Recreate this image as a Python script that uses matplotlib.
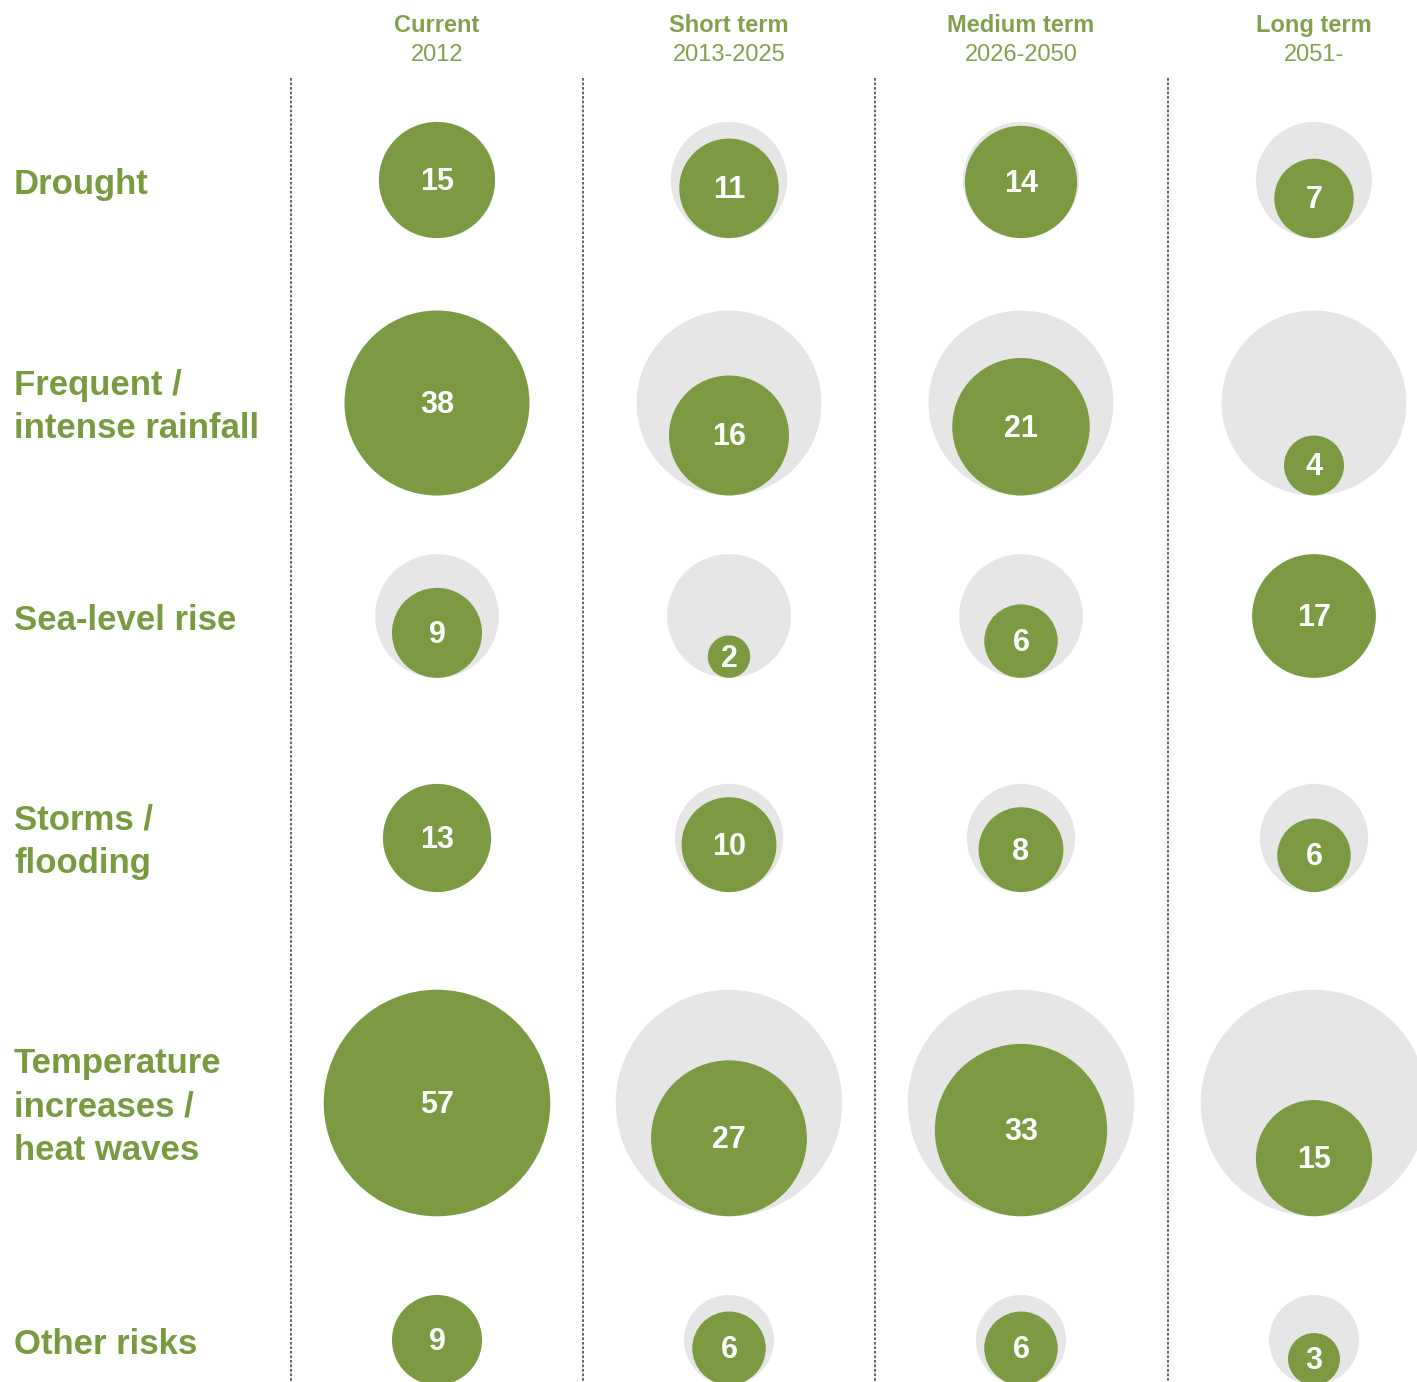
import numpy as np
import matplotlib
matplotlib.use("Agg")
import matplotlib.pyplot as plt
from matplotlib.patches import Circle

# data
risks = ["Drought", "Frequent /\nintense rainfall", "Sea-level rise", "Storms /\nflooding",
         "Temperature\nincreases /\nheat waves", "Other risks"]
periods = ["Current", "Short term", "Medium term", "Long term"]
period_years = ["2012", "2013-2025", "2026-2050", "2051-"]
current = [15, 38, 9, 13, 57, 9]
short_term = [11, 16, 2, 10, 27, 6]
medium_term = [14, 21, 6, 8, 33, 6]
long_term = [7, 4, 17, 6, 15, 3]

# layout (pixels)
W, H = 1417, 1382
row_y = [180, 403, 616, 838, 1103, 1340]
col_x = [437, 729, 1021, 1314]
col_step = 292
k = 15.0  # radius per sqrt(value)

green = "#7b9a42"
grey = "#e6e6e6"
label_green = "#7a9a3f"
font = ["Liberation Sans", "DejaVu Sans"]

fig = plt.figure(figsize=(W / 100, H / 100), dpi=100)
ax = fig.add_axes([0, 0, 1, 1])
ax.set_xlim(0, W)
ax.set_ylim(H, 0)
ax.set_aspect("equal")
ax.axis("off")

values = np.array([current, short_term, medium_term, long_term]).T

# dotted separators
for cx in col_x:
    ax.plot([cx - col_step / 2, cx - col_step / 2], [78, H], color="#5f525f",
            lw=1.3, linestyle=(0, (1.5, 1.0)), zorder=1)

for i, risk in enumerate(risks):
    row = values[i]
    rmax = k * np.sqrt(row.max())
    cy = row_y[i]
    ax.text(14, cy + 4, risk, ha="left", va="center", fontsize=25, fontweight="bold",
            color=label_green, family=font, linespacing=1.42)
    for j, v in enumerate(row):
        r = k * np.sqrt(v)
        ax.add_patch(Circle((col_x[j], cy), rmax, color=grey, lw=0, zorder=2))
        gy = cy + rmax - r
        ax.add_patch(Circle((col_x[j], gy), r, color=green, lw=0, zorder=3))
        ax.text(col_x[j], gy + 2, str(v), ha="center", va="center", fontsize=22,
                fontweight="bold", color="white", family=font, zorder=4)

for j, (p, yr) in enumerate(zip(periods, period_years)):
    ax.text(col_x[j], 25, p, ha="center", va="center", fontsize=17,
            fontweight="bold", color="#84a04c", family=font)
    ax.text(col_x[j], 55, yr, ha="center", va="center", fontsize=17,
            color="#84a04c", family=font)

fig.savefig("out.png", dpi=100)
